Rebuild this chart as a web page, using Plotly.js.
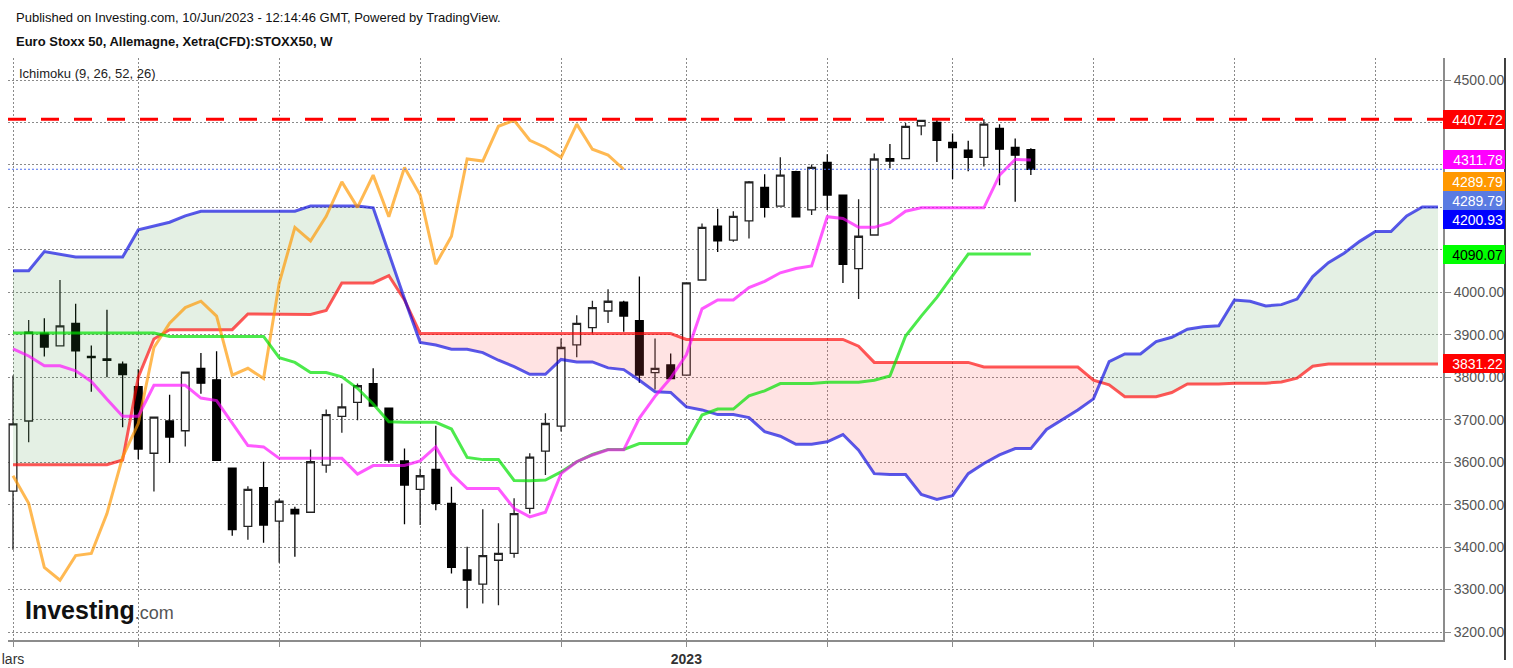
<!DOCTYPE html>
<html><head><meta charset="utf-8">
<script src="https://cdn.plot.ly/plotly-3.0.1.min.js"></script>
<style>html,body{margin:0;padding:0;background:#fff;overflow:hidden}#chart{width:1513px;height:668px}</style>
</head><body><div id="chart"></div>
<script>
// ---- data (weekly bars, Euro Stoxx 50) ----
const weeks = ['2022-03-07','2022-03-14','2022-03-21','2022-03-28','2022-04-04','2022-04-11','2022-04-18','2022-04-25','2022-05-02','2022-05-09','2022-05-16','2022-05-23','2022-05-30','2022-06-06','2022-06-13','2022-06-20','2022-06-27','2022-07-04','2022-07-11','2022-07-18','2022-07-25','2022-08-01','2022-08-08','2022-08-15','2022-08-22','2022-08-29','2022-09-05','2022-09-12','2022-09-19','2022-09-26','2022-10-03','2022-10-10','2022-10-17','2022-10-24','2022-10-31','2022-11-07','2022-11-14','2022-11-21','2022-11-28','2022-12-05','2022-12-12','2022-12-19','2022-12-26','2023-01-02','2023-01-09','2023-01-16','2023-01-23','2023-01-30','2023-02-06','2023-02-13','2023-02-20','2023-02-27','2023-03-06','2023-03-13','2023-03-20','2023-03-27','2023-04-03','2023-04-10','2023-04-17','2023-04-24','2023-05-01','2023-05-08','2023-05-15','2023-05-22','2023-05-29','2023-06-05','2023-06-12','2023-06-19','2023-06-26','2023-07-03','2023-07-10','2023-07-17','2023-07-24','2023-07-31','2023-08-07','2023-08-14','2023-08-21','2023-08-28','2023-09-04','2023-09-11','2023-09-18','2023-09-25','2023-10-02','2023-10-09','2023-10-16','2023-10-23','2023-10-30','2023-11-06','2023-11-13','2023-11-20','2023-11-27','2023-12-04'];

const open = [3532,3697,3904,3874,3927,3849,3843,3831,3778,3621,
  3697,3674,3821,3794,3586,3449,3540,3461,3489,3482,
  3593,3708,3741,3785,3727,3603,3536,3583,3503,3346,
  3313,3369,3385,3491,3626,3685,3876,3917,3956,3977,
  3933,3811,3829,3805,4029,4156,4123,4168,4247,4203,
  4284,4194,4306,4229,4056,4135,4315,4315,4392,4400,
  4353,4335,4318,4386,4341,4336];
const high = [3804,3935,3939,4029,3973,3875,3959,3837,3819,3706,
  3759,3812,3857,3861,3586,3543,3601,3514,3495,3630,
  3724,3785,3785,3821,3727,3632,3585,3686,3542,3401,
  3489,3456,3515,3621,3715,3891,3946,3980,4007,3980,
  4037,3891,3856,4022,4162,4197,4191,4262,4278,4318,
  4286,4301,4325,4229,4219,4327,4349,4399,4406,4407,
  4374,4357,4407.72,4396,4362,4339];
const low = [3394,3647,3849,3874,3798,3766,3800,3682,3607,3531,
  3598,3637,3761,3604,3427,3417,3410,3363,3377,3480,
  3575,3669,3699,3732,3599,3454,3452,3487,3338,3256,
  3267,3263,3375,3479,3570,3672,3847,3903,3928,3907,
  3787,3771,3797,3805,4029,4095,4119,4127,4176,4203,
  4178,4182,4194,4022,3984,4135,4292,4315,4370,4307,
  4267,4285,4296,4252,4213,4276];
const close = [3690,3906,3871,3921,3862,3846,3840,3806,3631,3706,
  3659,3812,3786,3604,3441,3536,3452,3508,3478,3601,
  3712,3730,3780,3732,3605,3546,3568,3503,3352,3322,
  3380,3385,3479,3612,3691,3870,3927,3964,3979,3944,
  3805,3821,3797,4022,4153,4121,4179,4260,4200,4276,
  4178,4294,4229,4066,4132,4314,4309,4391,4405,4358,
  4341,4318,4396,4337,4323,4289.79];

// Ichimoku (9, 26, 52, 26)
const tenkan = [3867,3850,3827,3827,3815,3790,3748,3708,3708,3781,
  3781,3781,3751,3745,3692,3639,3636,3609,3609,3609,
  3609,3609,3572,3592,3592,3592,3603,3636,3573,3538,
  3538,3538,3491,3471,3482,3573,3601,3617,3629,3629,
  3704,3755,3798,3853,3961,3982,3982,4011,4026,4046,
  4056,4062,4178,4174,4153,4153,4164,4191,4199,4199,
  4199,4199,4199,4276,4313,4311.78];
const kijun = [3904,3904,3904,3904,3904,3904,3904,3904,3904,3904,
  3896,3896,3896,3896,3896,3896,3896,3846,3835,3811,
  3811,3801,3774,3737,3695,3694,3694,3694,3678,3611,
  3606,3606,3557,3556,3558,3577,3601,3618,3630,3630,
  3644,3644,3644,3644,3711,3725,3725,3756,3768,3785,
  3785,3785,3788,3788,3788,3793,3803,3897,3944,3988,
  4040,4090.07,4090.07,4090.07,4090.07,4090.07];
const chikou = [3568,3503,3352,3322,3380,3385,3479,3612,3691,3870,
  3927,3964,3979,3944,3805,3821,3797,4022,4153,4121,
  4179,4260,4200,4276,4178,4294,4229,4066,4132,4314,
  4309,4391,4405,4358,4341,4318,4396,4337,4323,4289.79];
const senkouA = [3594,3594,3594,3594,3594,3594,3594,3605,3800,3890,
  3912,3912,3912,3912,3912,3949,3949,3948,3948,3948,
  3957,4022,4022,4022,4039,3982,3903,3903,3903,3903,
  3903,3903,3903,3903,3903,3903,3903,3903,3903,3903,
  3903,3903,3903,3889,3889,3889,3889,3889,3889,3889,
  3889,3889,3889,3889,3873,3835,3835,3835,3835,3835,
  3835,3835,3824,3824,3824,3824,3824,3824,3824,3793,
  3782,3754,3754,3754,3764,3784,3784,3784,3786,3786,
  3786,3789,3798,3826,3831.22,3831.22,3831.22,3831.22,3831.22,3831.22,
  3831.22,3831.22];
const senkouB = [4051,4051,4096,4090,4083,4083,4083,4083,4147,4156,
  4165,4180,4191,4191,4191,4191,4191,4191,4191,4203,
  4203,4203,4203,4199,4090,3985,3882,3876,3866,3866,
  3858,3840,3825,3807,3807,3842,3836,3836,3822,3818,
  3793,3766,3764,3730,3723,3712,3712,3705,3672,3661,
  3642,3642,3648,3665,3628,3573,3571,3571,3524,3512,
  3521,3573,3597,3617,3632,3632,3677,3699,3723,3749,
  3837,3855,3855,3884,3894,3913,3919,3921,3982,3979,
  3968,3971,3984,4037,4070,4092,4120,4143,4143,4180,
  4201,4200.93];
const highLine = 4407.72;

const tickDates = ['2022-03-07','2022-05-02','2022-07-04','2022-09-05','2022-11-07','2023-01-02','2023-03-06','2023-05-01','2023-07-03','2023-09-04','2023-11-06'];
const tickLabels = ['lars','','','','','<b>2023</b>','','','','',''];
// price scale ticks; the ones hidden behind the coloured value boxes are left blank
const yTicks = [3200,3300,3400,3500,3600,3700,3800,3900,4000,4100,4200,4300,4400,4500];
const yTickLabels = ['3200.00','3300.00','3400.00','3500.00','3600.00','3700.00','3800.00','3900.00','4000.00','','','','','4500.00'];

// ---- build ----
const nC = close.length;
const candleX = weeks.slice(0, nC);
const chikouX = weeks.slice(0, chikou.length);
const FONT = 'Liberation Sans, Arial, Helvetica, sans-serif';

function toMs(d){ return Date.parse(d + 'T00:00:00Z'); }
function fmt(ms){ return new Date(ms).toISOString().slice(0,19).replace('T',' '); }
function splitCloud(xs, a, b){
  const X=[], A=[], B=[];
  for (let i=0;i<xs.length;i++){
    if (i>0){
      const d0=a[i-1]-b[i-1], d1=a[i]-b[i];
      if (d0*d1<0){
        const t=d0/(d0-d1);
        const x0=toMs(xs[i-1]), x1=toMs(xs[i]);
        const ym=a[i-1]+t*(a[i]-a[i-1]);
        X.push(fmt(x0+t*(x1-x0))); A.push(ym); B.push(ym);
      }
    }
    X.push(xs[i]); A.push(a[i]); B.push(b[i]);
  }
  return {X,A,B};
}
const cloud = splitCloud(weeks, senkouA, senkouB);
const cloudMax = cloud.A.map((v,i)=>Math.max(v, cloud.B[i]));

const noLine = {width:0, color:'rgba(0,0,0,0)'};
const traces = [
  {type:'scatter', mode:'lines', x:cloud.X, y:cloud.A, line:noLine, hoverinfo:'skip'},
  {type:'scatter', mode:'lines', x:cloud.X, y:cloudMax, line:noLine, fill:'tonexty', fillcolor:'rgba(67,150,67,0.14)', hoverinfo:'skip'},
  {type:'scatter', mode:'lines', x:cloud.X, y:cloud.B, line:noLine, hoverinfo:'skip'},
  {type:'scatter', mode:'lines', x:cloud.X, y:cloudMax, line:noLine, fill:'tonexty', fillcolor:'rgba(255,80,80,0.16)', hoverinfo:'skip'},
  {type:'scatter', mode:'lines', name:'Leading Span A', x:weeks, y:senkouA, line:{color:'rgba(255,0,0,0.65)', width:3}},
  {type:'scatter', mode:'lines', name:'Leading Span B', x:weeks, y:senkouB, line:{color:'rgba(0,0,225,0.65)', width:3}},
  {type:'scatter', mode:'lines', name:'Lagging Span', x:chikouX, y:chikou, line:{color:'rgba(255,152,0,0.68)', width:3}},
  {type:'scatter', mode:'lines', name:'Base Line', x:candleX, y:kijun, line:{color:'rgba(0,225,0,0.7)', width:3}},
  {type:'scatter', mode:'lines', name:'Conversion Line', x:candleX, y:tenkan, line:{color:'rgba(255,0,255,0.65)', width:3}},
  {type:'candlestick', name:'STOXX50', x:candleX, open:open, high:high, low:low, close:close,
    increasing:{line:{color:'#222', width:1.3}, fillcolor:'#ffffff'},
    decreasing:{line:{color:'#000', width:1.3}, fillcolor:'#000000'},
    whiskerwidth:0, hoverinfo:'skip'}
];

// right-hand price labels
const last = arr => arr[arr.length-1];
const priceLabels = [
  {v:highLine, bg:'#ff0000', fc:'#ffffff', s:0},
  {v:last(tenkan), bg:'#ff00ff', fc:'#ffffff', s:0},
  {v:last(chikou), bg:'#ff9800', fc:'#ffffff', s:-12},
  {v:last(close), bg:'#5a7be2', fc:'#ffffff', s:-31},
  {v:last(senkouB), bg:'#0000ff', fc:'#ffffff', s:-13},
  {v:last(kijun), bg:'#00ff00', fc:'#000000', s:0},
  {v:last(senkouA), bg:'#ff0000', fc:'#ffffff', s:0}
];
const annotations = priceLabels.map(p => ({
  xref:'paper', yref:'y', x:1, y:p.v, xanchor:'left', yanchor:'middle', yshift:p.s,
  text:p.v.toFixed(2), showarrow:false, bgcolor:p.bg, borderpad:2, borderwidth:0,
  width:58, height:15, align:'right', font:{family:FONT, size:14, color:p.fc}
}));
annotations.push(
  {xref:'paper', yref:'paper', x:0.0042, y:1.0704, xanchor:'left', yanchor:'middle', showarrow:false,
   text:'Published on Investing.com, 10/Jun/2023 - 12:14:46 GMT, Powered by TradingView.', font:{family:FONT, size:13, color:'#111'}},
  {xref:'paper', yref:'paper', x:0.0042, y:1.0292, xanchor:'left', yanchor:'middle', showarrow:false,
   text:'<b>Euro Stoxx 50, Allemagne, Xetra(CFD):STOXX50, W</b>', font:{family:FONT, size:13, color:'#111'}},
  {xref:'paper', yref:'paper', x:0.0063, y:0.9742, xanchor:'left', yanchor:'middle', showarrow:false,
   text:'Ichimoku (9, 26, 52, 26)', font:{family:FONT, size:13, color:'#222'}},
  {xref:'paper', yref:'paper', x:0.0105, y:0.052, xanchor:'left', yanchor:'middle', showarrow:false,
   text:'<b>Investing</b><span style="font-size:18px;color:#555">.com</span>', font:{family:FONT, size:25, color:'#111'}}
);

const layout = {
  width:1513, height:668,
  margin:{l:8, r:70, t:58, b:28, pad:0},
  paper_bgcolor:'#ffffff', plot_bgcolor:'#ffffff',
  showlegend:false, hovermode:false,
  font:{family:FONT, size:13, color:'#333'},
  xaxis:{type:'date', range:['2022-03-04 18:14','2023-12-06 05:46'], rangeslider:{visible:false},
    tickmode:'array', tickvals:tickDates, ticktext:tickLabels,
    showgrid:true, gridcolor:'#8a8a8a', griddash:'2px,2px', gridwidth:1,
    showline:true, linecolor:'#8c8c8c', linewidth:2, ticks:'outside', ticklen:5, tickcolor:'#8c8c8c',
    tickfont:{family:FONT, size:14, color:'#333'}, zeroline:false, fixedrange:true},
  yaxis:{side:'right', range:[3181.2, 4551.8], tickmode:'array', tickvals:yTicks, ticktext:yTickLabels,
    showgrid:true, gridcolor:'#8a8a8a', griddash:'2px,2px', gridwidth:1,
    showline:true, linecolor:'#8c8c8c', linewidth:2, ticks:'outside', ticklen:6, tickcolor:'#8c8c8c',
    tickfont:{family:FONT, size:14, color:'#555'}, zeroline:false, fixedrange:true},
  shapes:[
    {type:'line', xref:'paper', yref:'y', x0:0, x1:1, y0:highLine, y1:highLine, line:{color:'#ff0000', width:3, dash:'18px,15px'}},
    {type:'line', xref:'paper', yref:'y', x0:0, x1:1, y0:last(close), y1:last(close), line:{color:'#4d6ff0', width:1, dash:'2px,2px'}},
    {type:'line', xref:'paper', yref:'paper', x0:1.0432, x1:1.0432, y0:-0.0344, y1:1, line:{color:'#000', width:1.5}}
  ],
  annotations:annotations
};

Plotly.newPlot('chart', traces, layout, {displayModeBar:false, staticPlot:true});
</script>
</body></html>
